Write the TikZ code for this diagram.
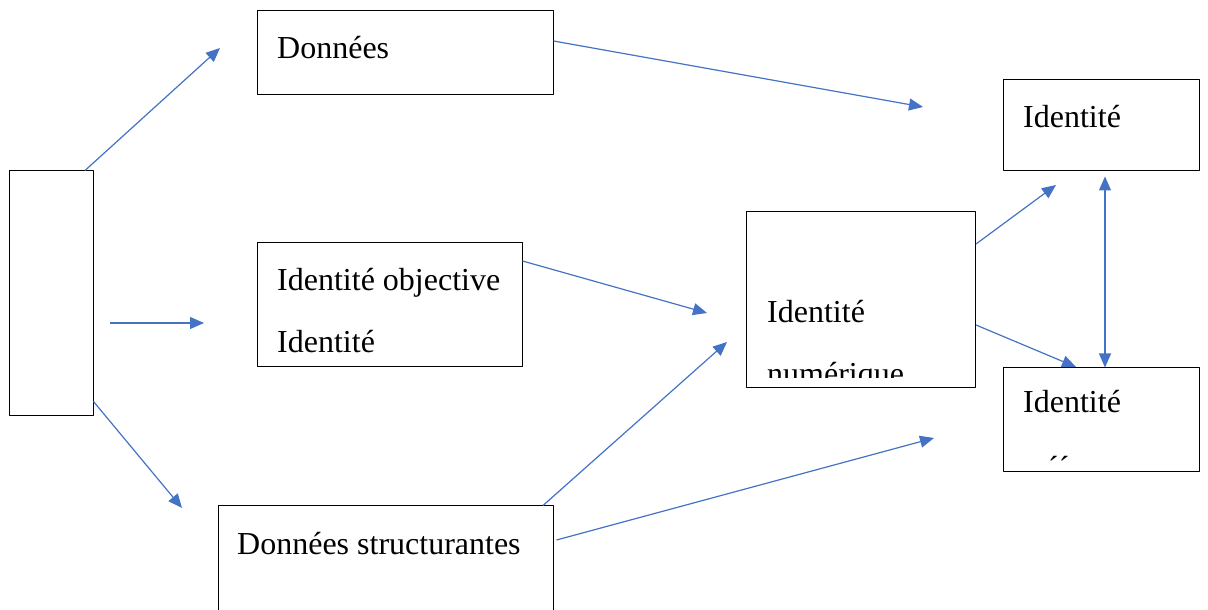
\documentclass[tikz,border=0pt]{standalone}
\usepackage{fontspec}
\setmainfont{Liberation Serif}
\usepackage{tikz}
\usetikzlibrary{positioning,arrows.meta}
\definecolor{arrowblue}{HTML}{4472C4}

\begin{document}
\begin{tikzpicture}[>={Triangle[length=14bp,width=12bp]},line join=bevel,
  box/.style={draw=black,line width=1bp,inner sep=0pt},
  txt/.style={anchor=base west,inner sep=0pt,font=\fontsize{32bp}{38bp}\selectfont}]
\useasboundingbox (0bp,0bp) rectangle (1208bp,610bp);
%%
\node (source) at (51bp,316.5bp) [box,minimum width=84bp,minimum height=245bp] {};
  \node (Donnees) at (405bp,557bp) [box,minimum width=296bp,minimum height=84bp] {};
  \node (IdentiteObjective) at (389.5bp,305bp) [box,minimum width=265bp,minimum height=124bp] {};
  \node (IdentiteNumerique) at (861bp,310bp) [box,minimum width=229bp,minimum height=176bp] {};
  \node (Identite) at (1101bp,484.5bp) [box,minimum width=196bp,minimum height=91bp] {};
  \node (IdentiteBas) at (1101bp,190bp) [box,minimum width=196bp,minimum height=104bp] {};
  \node (DonneesStructurantes) at (385.5bp,49bp) [box,minimum width=335bp,minimum height=110bp] {};
%%
\node (Donnees-txt) at (277bp,551bp) [txt] {Données};
  \node (Identite-txt) at (1023bp,482bp) [txt] {Identité};
  \node (IdentiteObjective-txt) at (277bp,319bp) [txt] {Identité objective};
  \node (IdentiteObjective-txt2) at (277bp,257bp) [txt] {Identité};
  \node (IdentiteNumerique-txt) at (767bp,287bp) [txt] {Identité};
  \begin{scope}
  \clip (746bp,232bp) rectangle (975bp,400bp);
  \node (IdentiteNumerique-txt2) at (767bp,225bp) [txt] {numérique};
  \end{scope}
  \node (IdentiteBas-txt) at (1023bp,197bp) [txt] {Identité};
  \node (IdentiteBas-txt2) at (1048bp,131bp) [txt] {´´};
  \node (DonneesStructurantes-txt) at (237bp,55bp) [txt] {Données structurantes};
%%
\coordinate (toDonnees) at (220bp,562bp);
  \coordinate (fromSource) at (110bp,287bp);
  \coordinate (toObjective) at (204bp,287bp);
  \coordinate (toStructurantes) at (182bp,102bp);
  \coordinate (toIdentite) at (923bp,503bp);
  \coordinate (toNumerique) at (707bp,297bp);
  \coordinate (toNumerique2) at (727bp,268bp);
  \coordinate (toIdentiteBas) at (934bp,172bp);
  \coordinate (toIdentite2) at (1056bp,425bp);
  \coordinate (toIdentiteBas2) at (1076bp,243bp);
%%
\draw [arrowblue,line width=1.2bp,->] ([xshift=34bp]source.north) -- (toDonnees);
  \draw [arrowblue,line width=1.2bp,->] (fromSource) -- (toObjective);
  \draw [arrowblue,line width=1.2bp,->] ([yshift=-108bp]source.east) -- (toStructurantes);
  \draw [arrowblue,line width=1.2bp,->] ([yshift=12bp]Donnees.east) -- (toIdentite);
  \draw [arrowblue,line width=1.2bp,->] ([yshift=44bp]IdentiteObjective.east) -- (toNumerique);
  \draw [arrowblue,line width=1.2bp,->] ([xshift=157.5bp]DonneesStructurantes.north) -- (toNumerique2);
  \draw [arrowblue,line width=1.2bp,->] ([xshift=3bp,yshift=21bp]DonneesStructurantes.east) -- (toIdentiteBas);
  \draw [arrowblue,line width=1.2bp,->] ([yshift=56bp]IdentiteNumerique.east) -- (toIdentite2);
  \draw [arrowblue,line width=1.2bp,->] ([yshift=-25bp]IdentiteNumerique.east) -- (toIdentiteBas2);
  \draw [arrowblue,line width=1.2bp,<->] ([xshift=4bp,yshift=-5bp]Identite.south) -- ([xshift=4bp]IdentiteBas.north);
%
\end{tikzpicture}
\end{document}
